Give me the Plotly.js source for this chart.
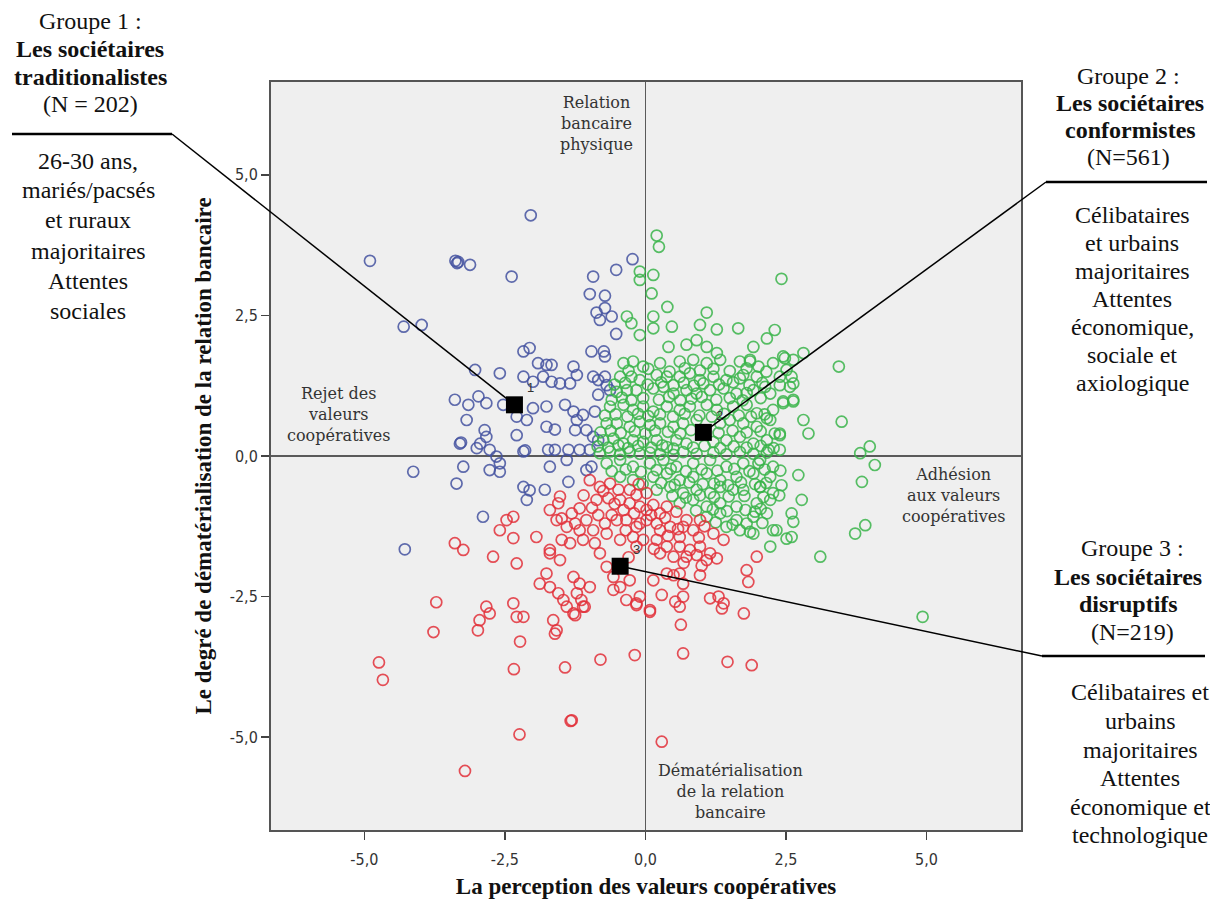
<!DOCTYPE html>
<html><head><meta charset="utf-8">
<script src="https://cdn.plot.ly/plotly-3.0.1.min.js"></script>
<style>html,body{margin:0;padding:0;background:#fff}#chart{width:1210px;height:903px}</style>
</head><body><div id="chart"></div>
<script>
// ---------- DATA ----------
const blue_x = [-2.04,-4.90,-3.38,-3.35,-3.33,-3.12,-2.38,-0.23,-0.52,-0.93,-0.99,-0.72,-0.87,-0.72,-0.60,-0.81,-4.30,-3.98,
 -0.52,-0.96,-0.74,-0.72,-1.76,-1.67,-1.82,-1.52,-1.34,-1.22,-1.28,-0.93,-0.84,-0.72,-0.69,-0.63,-0.84,-1.67,-1.76,-1.43,
 -1.28,-1.22,-1.11,-0.90,-1.76,-1.61,-1.25,-1.05,-0.93,-0.84,-1.73,-1.61,-1.37,-1.17,-0.99,-2.17,-2.06,-1.91,-3.03,-2.59,
 -2.17,-2.00,-3.39,-3.15,-2.97,-2.83,-2.53,-3.18,-2.29,-2.11,-2.00,-2.29,-2.86,-2.83,-2.94,-3.30,-3.00,-2.77,-2.65,-2.59,
 -2.77,-2.59,-2.17,-4.13,-3.24,-3.36,-2.17,-2.06,-2.11,-2.89,-4.28,-3.28,-2.14,-1.40,-1.70,-1.05,-0.96,-1.37,-1.79];
const blue_y = [4.28,3.47,3.47,3.43,3.45,3.40,3.19,3.50,3.31,3.19,2.88,2.85,2.55,2.63,2.48,2.42,2.30,2.33,
 2.17,1.86,1.86,1.77,1.62,1.62,1.41,1.29,1.29,1.44,1.59,1.41,1.35,1.41,1.26,1.17,1.09,1.32,0.88,0.91,
 0.79,0.64,0.73,0.79,0.52,0.47,0.46,0.46,0.34,0.28,0.11,0.11,0.11,0.11,0.11,1.86,1.92,1.65,1.53,1.47,
 1.41,1.32,1.00,0.91,1.06,0.94,0.91,0.64,0.70,0.64,0.85,0.37,0.46,0.34,0.22,0.22,0.14,0.11,-0.01,-0.13,
 -0.25,-0.28,0.08,-0.28,-0.19,-0.49,-0.55,-0.61,-0.78,-1.08,-1.66,0.24,0.10,-0.07,-0.19,-0.25,-0.19,-0.46,-0.60];

const green_x = [0.20,0.24,-0.10,-0.10,0.14,0.11,-0.33,-0.25,0.14,2.42,0.39,1.09,0.47,0.97,1.27,1.65,2.30,-0.10,0.14,2.16,
 0.41,0.73,0.91,1.09,1.27,1.92,2.45,2.63,
 -0.39,-0.22,-0.04,0.26,0.61,0.85,1.09,1.33,1.68,1.86,2.01,2.27,2.51,
 -0.45,-0.25,-0.10,0.20,0.38,0.61,0.79,0.97,1.21,1.44,1.74,1.98,2.39,2.63,
 -0.51,-0.33,-0.16,0.14,0.32,0.50,0.73,0.91,1.15,1.39,1.62,1.92,2.22,2.45,2.63,
 -0.63,-0.39,-0.22,-0.04,0.14,0.38,0.61,0.79,1.09,1.27,1.56,1.80,1.98,2.27,
 -0.69,-0.51,-0.28,-0.10,0.08,0.26,0.50,0.67,0.91,1.33,1.50,1.74,1.98,2.22,2.39,
 -0.75,-0.57,-0.39,-0.22,-0.04,0.20,0.38,0.55,0.73,1.21,1.44,1.68,1.92,2.16,
 -0.81,-0.63,-0.45,-0.28,-0.10,0.08,0.26,0.50,0.67,0.91,1.21,1.44,1.68,1.92,2.16,2.39,
 -0.69,-0.45,-0.22,0.08,0.32,0.55,0.85,1.15,1.44,1.74,2.04,2.27,
 -0.45,-0.22,0.14,0.38,0.61,0.85,1.09,1.33,1.62,1.92,2.22,
 0.20,0.44,0.67,0.91,1.15,1.33,1.56,1.74,2.04,2.27,
 0.61,0.85,1.09,1.33,1.62,1.98,2.22,
 1.09,1.33,1.62,1.92,2.16,
 1.44,1.68,1.92,2.27,2.22,
 2.81,3.44,2.81,2.90,3.49,3.82,3.99,4.08,3.85,2.78,3.73,3.91,3.11,2.72,2.60,2.63,2.51,2.60,2.48,2.60,2.57,2.45,2.63,
 1.86,1.68,2.13,1.80,2.39,2.16,2.39,2.19,2.01,2.04,1.95,1.86,2.33,4.93,
 -0.30,0.05,0.43,0.70,0.97,1.21,1.50,1.80,2.15,
 -0.55,-0.36,0.04,0.28,0.50,0.68,0.86,1.03,1.31,1.56,1.85,2.08,
 -0.60,-0.42,-0.25,-0.04,0.24,0.42,0.62,0.82,1.00,1.26,1.50,1.73,2.05,
 -0.72,-0.53,-0.32,-0.13,0.05,0.26,0.49,0.70,0.96,1.18,1.40,1.66,1.88,2.12,
 -0.80,-0.62,-0.44,-0.19,0.00,0.17,0.40,0.62,0.81,1.30,1.55,1.80,2.05,2.30,
 -0.85,-0.66,-0.48,-0.31,-0.13,0.10,0.30,0.50,0.85,1.05,1.33,1.57,1.80,2.05,2.28,
 -0.60,-0.35,-0.08,0.20,0.45,0.72,1.00,1.28,1.58,1.85,2.12,2.40,
 -0.05,0.28,0.52,0.78,1.02,1.22,1.47,1.70,1.95,2.15,2.42,
 0.48,0.72,0.97,1.22,1.48,1.76,2.10,2.38,
 0.90,1.20,1.45,1.78,2.05,
 1.25,1.55,1.80,2.08];
const green_y = [3.92,3.72,3.28,3.13,3.22,2.89,2.48,2.36,2.48,3.15,2.65,2.55,2.30,2.33,2.25,2.27,2.24,2.15,2.27,2.09,
 1.94,1.98,2.06,1.94,1.83,1.94,1.77,1.71,
 1.65,1.68,1.59,1.65,1.68,1.71,1.65,1.71,1.68,1.71,1.59,1.65,1.53,
 1.41,1.41,1.35,1.44,1.41,1.41,1.47,1.35,1.41,1.35,1.44,1.41,1.41,1.29,
 1.14,1.17,1.17,1.20,1.23,1.11,1.17,1.11,1.17,1.20,1.11,1.17,1.11,0.97,1.00,
 0.88,0.91,0.82,0.88,0.79,0.88,0.82,0.88,0.91,0.82,0.88,0.91,0.76,0.82,
 0.58,0.58,0.52,0.61,0.55,0.58,0.52,0.58,0.64,0.58,0.64,0.58,0.52,0.64,0.40,
 0.28,0.31,0.22,0.28,0.25,0.28,0.16,0.28,0.22,0.25,0.28,0.34,0.22,0.28,
 0.05,0.08,0.03,0.07,0.04,0.06,0.03,0.02,0.07,0.04,0.06,0.03,0.07,0.04,0.06,0.11,
 -0.13,-0.07,-0.19,-0.13,-0.07,-0.19,-0.13,-0.07,-0.19,-0.13,-0.07,-0.19,
 -0.37,-0.43,-0.37,-0.31,-0.43,-0.37,-0.31,-0.43,-0.37,-0.31,-0.37,
 -0.60,-0.55,-0.66,-0.60,-0.66,-0.55,-0.60,-0.60,-0.55,-0.66,
 -0.84,-0.78,-0.90,-0.84,-0.90,-0.84,-0.78,
 -1.08,-1.02,-1.14,-1.08,-1.02,
 -1.26,-1.32,-1.38,-1.32,-1.61,
 1.83,1.59,0.64,0.40,0.61,0.05,0.17,-0.16,-0.46,-0.78,-1.38,-1.23,-1.79,-0.34,-1.02,-1.17,-1.47,-1.44,1.74,1.41,1.23,0.94,0.97,
 1.68,1.38,1.23,1.12,1.26,0.67,0.37,0.11,-0.13,-0.55,-0.99,-1.35,-1.32,-2.86,
 1.52,1.55,1.50,1.56,1.52,1.55,1.51,1.56,1.50,
 1.27,1.30,1.27,1.31,1.26,1.30,1.25,1.29,1.27,1.31,1.26,1.30,
 1.00,1.04,0.99,1.03,1.00,1.05,0.99,1.02,1.05,1.00,1.03,0.99,1.03,
 0.72,0.74,0.70,0.75,0.71,0.74,0.70,0.75,0.72,0.70,0.75,0.72,0.70,0.74,
 0.42,0.45,0.41,0.44,0.40,0.45,0.43,0.40,0.46,0.41,0.45,0.42,0.44,0.40,
 0.17,0.15,0.19,0.14,0.18,0.15,0.19,0.13,0.15,0.18,0.14,0.17,0.15,0.18,0.14,
 -0.27,-0.24,-0.28,-0.25,-0.23,-0.27,-0.24,-0.26,-0.23,-0.27,-0.24,-0.26,
 -0.50,-0.48,-0.51,-0.47,-0.50,-0.49,-0.52,-0.47,-0.50,-0.48,-0.52,
 -0.71,-0.74,-0.70,-0.73,-0.72,-0.71,-0.73,-0.70,
 -0.97,-0.95,-0.98,-0.96,-0.94,
 -1.18,-1.22,-1.20,-1.19];

const red_x = [-0.99,-0.81,-0.63,-0.48,-0.87,-0.66,-1.52,-1.55,-1.70,-1.49,-1.31,-1.17,-1.05,-0.84,-0.72,-0.51,-0.39,-0.16,0.02,-0.28,
 -0.10,0.14,0.38,0.55,0.73,-0.34,-0.16,0.02,0.20,0.44,0.67,0.85,0.97,1.21,1.39,-0.22,-0.04,0.20,0.38,0.61,
 0.79,0.97,1.15,1.27,0.50,0.26,-0.16,-0.45,-0.69,-0.93,-1.17,-1.40,-1.58,-2.35,-2.47,-2.59,-2.35,-1.94,-1.70,-1.49,
 -1.34,-1.11,-0.81,-0.69,-0.57,-0.45,-0.28,-0.10,0.38,0.61,1.80,1.98,-0.16,-0.34,-0.57,-0.99,-1.17,-1.28,-1.22,-1.11,
 -1.28,-1.46,-1.55,-1.70,-1.88,-1.76,-1.52,-1.70,-2.29,-2.71,-2.83,-2.77,-2.35,-2.17,-2.29,-1.64,-1.58,-1.40,
 0.73,0.91,1.09,0.61,0.26,-0.10,0.02,0.26,-0.28,-0.45,
 -3.39,-3.24,
 -3.72,-3.77,-4.74,-4.67,-2.23,-2.34,-0.19,-0.80,-1.43,-1.31,-1.33,-2.24,-3.21,
 -2.98,-2.95,-1.61,-1.14,-1.08,-1.25,-0.16,0.08,
 0.14,0.50,0.67,0.97,1.83,0.29,0.53,0.67,0.61,0.08,1.15,1.30,1.39,1.36,1.75,0.63,0.67,1.46,1.89,0.29,
 -0.75,-0.55,-0.20,0.10,0.35,0.58,0.95,1.05,0.40,-0.35,-0.60,-0.95,-1.25,0.15,0.68,1.00,-0.30,-0.90,-1.10,-0.12];
const red_y = [-0.43,-0.55,-0.49,-0.60,-0.78,-0.75,-0.72,-0.84,-0.96,-1.11,-1.02,-0.93,-1.14,-1.05,-1.20,-1.14,-0.96,-0.69,-0.66,-0.84,
 -0.90,-0.87,-0.90,-0.99,-1.14,-1.14,-1.26,-1.14,-1.20,-1.26,-1.26,-1.32,-1.14,-1.38,-1.49,-1.44,-1.49,-1.49,-1.61,-1.61,
 -1.67,-1.61,-1.73,-1.82,-1.79,-1.73,-1.61,-1.49,-1.38,-1.32,-1.32,-1.26,-1.14,-1.08,-1.14,-1.32,-1.46,-1.44,-1.73,-1.49,
 -1.55,-1.49,-1.73,-1.97,-2.15,-2.33,-2.21,-2.50,-2.09,-2.09,-2.03,-1.79,-2.62,-2.56,-2.38,-2.33,-2.27,-2.15,-2.44,-2.68,
 -2.80,-2.56,-2.44,-2.33,-2.27,-2.09,-1.85,-1.67,-1.91,-1.79,-2.68,-2.80,-2.62,-2.86,-2.86,-2.92,-3.10,-2.68,
 -1.79,-1.76,-1.85,-1.44,-1.32,-1.20,-0.96,-1.02,-0.60,-0.78,
 -1.55,-1.67,
 -2.60,-3.13,-3.67,-3.98,-3.30,-3.79,-3.54,-3.62,-3.76,-4.70,-4.71,-4.95,-5.60,
 -3.10,-2.92,-3.16,-2.56,-2.68,-2.83,-2.65,-2.77,
 -2.21,-2.12,-2.27,-2.12,-2.24,-2.47,-2.59,-2.50,-2.68,-2.74,-2.53,-2.50,-2.62,-2.71,-2.80,-3.00,-3.51,-3.66,-3.72,-5.08,
 -0.62,-0.85,-1.02,-1.05,-1.10,-1.30,-1.45,-1.25,-1.42,-1.32,-1.05,-0.92,-1.20,-1.65,-1.90,-1.95,-1.80,-1.55,-0.70,-0.50];

const centroid_x = [-2.33, 1.03, -0.45];
const centroid_y = [0.91, 0.42, -1.96];
const centroid_labels = ['1', '2', '3'];

const tick_vals = [-5, -2.5, 0, 2.5, 5];
const tick_text = ['-5,0', '-2,5', '0,0', '2,5', '5,0'];

const x_title = 'La perception des valeurs coopératives';
const y_title = 'Le degré de dématérialisation de la relation bancaire';

const quadrant_labels = [
  {text: 'Relation<br>bancaire<br>physique', px: 596, py: 123},
  {text: 'Rejet des<br>valeurs<br>coopératives', px: 338, py: 414},
  {text: 'Adhésion<br>aux valeurs<br>coopératives', px: 953, py: 495},
  {text: 'Dématérialisation<br>de la relation<br>bancaire', px: 730, py: 791}
];

// side text blocks: [text, center x px, center y px, bold]
const side_text = [
  ['Groupe 1 :', 90, 21, false], ['Les sociétaires', 90, 49, true], ['traditionalistes', 90, 77, true], ['(N = 202)', 90, 104, false],
  ['26-30 ans,', 88, 161, false], ['mariés/pacsés', 88, 190, false], ['et ruraux', 88, 220, false], ['majoritaires', 88, 251, false],
  ['Attentes', 88, 281, false], ['sociales', 88, 311, false],
  ['Groupe 2 :', 1128, 76, false], ['Les sociétaires', 1130, 103, true], ['conformistes', 1130, 130, true], ['(N=561)', 1128, 157, false],
  ['Célibataires', 1132, 215, false], ['et urbains', 1132, 243, false], ['majoritaires', 1132, 271, false], ['Attentes', 1132, 299, false],
  ['économique,', 1132, 327, false], ['sociale et', 1132, 355, false], ['axiologique', 1132, 383, false],
  ['Groupe 3 :', 1132, 548, false], ['Les sociétaires', 1128, 577, true], ['disruptifs', 1128, 604, true], ['(N=219)', 1132, 632, false],
  ['Célibataires et', 1140, 692, false], ['urbains', 1140, 721, false], ['majoritaires', 1140, 750, false], ['Attentes', 1140, 778, false],
  ['économique et', 1140, 807, false], ['technologique', 1140, 835, false]
];
// leader lines: horizontal rule (x0,x1,y) in px, joined to centroid index
const leaders = [
  {x0: 12, x1: 172, y: 134, join: 172, c: 0},
  {x0: 1046, x1: 1207, y: 182, join: 1046, c: 1},
  {x0: 1042, x1: 1205, y: 656, join: 1042, c: 2}
];

// ---------- LAYOUT ----------
const W = 1210, H = 903;
const M = {l: 271, r: 189, t: 82, b: 73};
const PW = W - M.l - M.r, PH = H - M.t - M.b;
const XR = [-6.66, 6.68], YR = [-6.65, 6.65];
const pxX = p => (p - M.l) / PW;
const pxY = p => (H - M.b - p) / PH;
const dX = v => (v - XR[0]) / (XR[1] - XR[0]);
const dY = v => (v - YR[0]) / (YR[1] - YR[0]);

const serif = 'Liberation Serif, Times New Roman, serif';
const mk = (color) => ({symbol: 'circle-open', size: 11, color: color, line: {width: 1.7}});

const traces = [
  {type: 'scatter', mode: 'markers', x: blue_x, y: blue_y, marker: mk('rgba(68,82,160,0.85)'), hoverinfo: 'skip', name: 'Groupe 1'},
  {type: 'scatter', mode: 'markers', x: green_x, y: green_y, marker: mk('rgba(58,180,74,0.85)'), hoverinfo: 'skip', name: 'Groupe 2'},
  {type: 'scatter', mode: 'markers', x: red_x, y: red_y, marker: mk('rgba(226,48,58,0.85)'), hoverinfo: 'skip', name: 'Groupe 3'},
  {type: 'scatter', mode: 'markers', x: centroid_x, y: centroid_y, marker: {symbol: 'square', size: 17, color: '#000'}, hoverinfo: 'skip', name: 'Centres'}
];

const annotations = [];
side_text.forEach(([t, px, py, b]) => annotations.push({
  xref: 'paper', yref: 'paper', x: pxX(px), y: pxY(py), xanchor: 'center', yanchor: 'middle',
  text: b ? '<b>' + t + '</b>' : t, showarrow: false, font: {family: serif, size: 24, color: '#111'}
}));
quadrant_labels.forEach(q => annotations.push({
  xref: 'paper', yref: 'paper', x: pxX(q.px), y: pxY(q.py), xanchor: 'center', yanchor: 'middle', align: 'center',
  text: q.text, showarrow: false, font: {family: 'DejaVu Serif, serif', size: 16, color: '#333'}
}));
centroid_labels.forEach((t, i) => annotations.push({
  x: centroid_x[i], y: centroid_y[i], xref: 'x', yref: 'y', text: t, showarrow: false,
  xshift: 16, yshift: 17, font: {family: 'Liberation Sans, Arial, sans-serif', size: 13, color: '#333'}
}));

const shapes = [];
leaders.forEach(L => {
  shapes.push({type: 'line', xref: 'paper', yref: 'paper', x0: pxX(L.x0), x1: pxX(L.x1), y0: pxY(L.y), y1: pxY(L.y),
    line: {color: '#000', width: 2.5}});
  shapes.push({type: 'line', xref: 'paper', yref: 'paper', x0: pxX(L.join), y0: pxY(L.y),
    x1: dX(centroid_x[L.c]), y1: dY(centroid_y[L.c]), line: {color: '#000', width: 1.5}});
});

const tickFont = {family: 'Liberation Sans Narrow, DejaVu Sans Condensed, Arial Narrow, sans-serif', size: 16, color: '#333'};
const axisCommon = {
  tickvals: tick_vals, ticktext: tick_text, ticks: 'outside', ticklen: 8, tickwidth: 1.5, tickcolor: '#444',
  showgrid: false, zeroline: true, zerolinecolor: '#5a5a5a', zerolinewidth: 1.5,
  showline: true, mirror: true, linecolor: '#555', linewidth: 2, tickfont: tickFont, fixedrange: true
};

const layout = {
  width: W, height: H, margin: M, showlegend: false,
  paper_bgcolor: '#fff', plot_bgcolor: '#efefef',
  xaxis: Object.assign({}, axisCommon, {range: XR, ticklabelstandoff: 6,
    title: {text: x_title, font: {family: serif, size: 23, color: '#111', weight: 'bold'}, standoff: 10}}),
  yaxis: Object.assign({}, axisCommon, {range: YR,
    title: {text: y_title, font: {family: serif, size: 23, color: '#111', weight: 'bold'}, standoff: 12}}),
  annotations: annotations, shapes: shapes
};

Plotly.newPlot('chart', traces, layout, {displayModeBar: false, staticPlot: true});
</script>
</body></html>
